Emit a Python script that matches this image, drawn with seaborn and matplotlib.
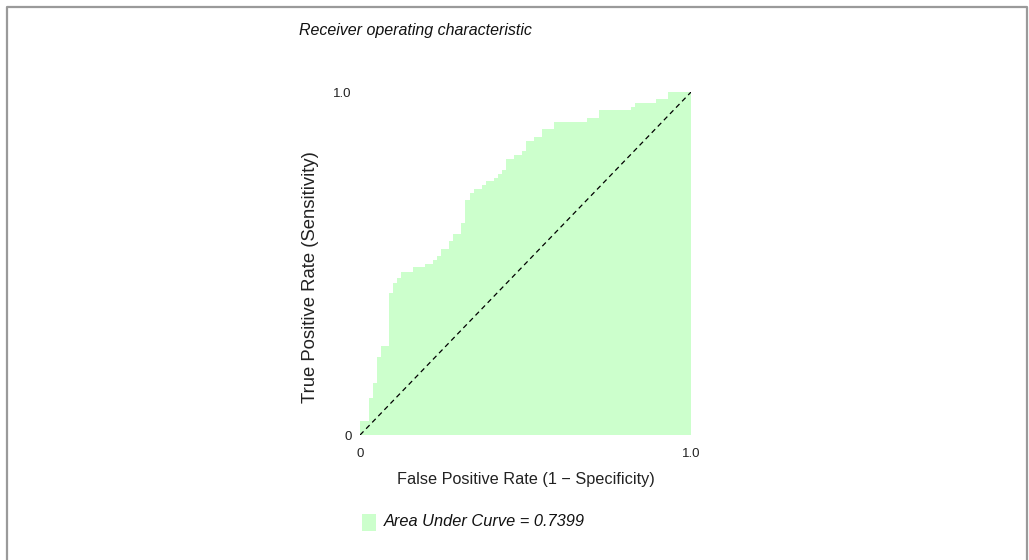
import matplotlib
matplotlib.use("Agg")
import matplotlib.pyplot as plt
import matplotlib.patches as mpatches
import matplotlib.lines as mlines
import numpy as np
import seaborn as sns

# ROC curve steps (false positive rate, true positive rate)
fpr = [0.000, 0.027, 0.039, 0.051, 0.063, 0.088, 0.100, 0.112, 0.124, 0.160,
       0.196, 0.221, 0.233, 0.245, 0.269, 0.281, 0.305, 0.317, 0.332, 0.344,
       0.369, 0.381, 0.405, 0.417, 0.429, 0.441, 0.465, 0.489, 0.502, 0.526,
       0.550, 0.586, 0.686, 0.722, 0.819, 0.831, 0.894, 0.931, 1.000]
tpr = [0.041, 0.108, 0.152, 0.227, 0.259, 0.414, 0.443, 0.458, 0.475, 0.490,
       0.499, 0.510, 0.522, 0.542, 0.566, 0.586, 0.618, 0.685, 0.706, 0.717,
       0.729, 0.741, 0.749, 0.761, 0.773, 0.805, 0.816, 0.828, 0.857, 0.869,
       0.892, 0.913, 0.924, 0.948, 0.956, 0.968, 0.980, 1.000, 1.000]
diag = [0.0, 1.0]
auc = 0.7399

title = "Receiver operating characteristic"
xlabel = "False Positive Rate (1 \u2212 Specificity)"
ylabel = "True Positive Rate (Sensitivity)"
fill_color = "#ccffcc"

sns.set_theme(style="white")
plt.rcParams["font.family"] = ["Liberation Sans", "DejaVu Sans"]

fig = plt.figure(figsize=(10.29, 5.6), dpi=100)
ax = fig.add_axes([0.3499, 0.2232, 0.3217, 0.6125])

ax.fill_between(fpr, tpr, 0, step="post", color=fill_color, linewidth=0)
sns.lineplot(x=diag, y=diag, ax=ax, color="black", linestyle=(0, (4, 3)),
             linewidth=0.9)

ax.set_xlim(0, 1)
ax.set_ylim(0, 1)
ax.set_xticks([0, 1])
ax.set_xticklabels(["0", "1.0"])
ax.set_yticks([0, 1])
ax.set_yticklabels(["0", "1.0"])
ax.tick_params(axis="both", length=0, labelsize=9.5, colors="#222222")
ax.tick_params(axis="x", pad=9)
ax.tick_params(axis="y", pad=6)
for s in ax.spines.values():
    s.set_visible(False)

ax.set_xlabel(xlabel, fontsize=11.7, labelpad=9, color="#222222")
ax.set_ylabel(ylabel, fontsize=13.3, color="#222222")
ax.yaxis.set_label_coords(-0.124, 0.46)

fig.text(299 / 1029, 1 - 31 / 560, title, fontsize=11.5, style="italic",
         ha="left", va="center", color="#111111")

# legend patch + label
fig.patches.append(mpatches.Rectangle((362 / 1029, 1 - 531 / 560), 14 / 1029, 17 / 560,
                                      transform=fig.transFigure, color=fill_color,
                                      linewidth=0))
fig.text(384 / 1029, 1 - 522 / 560, f"Area Under Curve = {auc:.4f}", fontsize=11.8,
         style="italic", ha="left", va="center", color="#111111")

# grey frame: left, top and right edges, slightly inset
fx = [6.5 / 1029, 6.5 / 1029, 1027 / 1029, 1027 / 1029]
fy = [0.0, 1 - 6.5 / 560, 1 - 6.5 / 560, 0.0]
fig.lines.append(mlines.Line2D(fx, fy, transform=fig.transFigure,
                               color="#9a9a9a", linewidth=1.6))

fig.savefig("out.png", dpi=100)
